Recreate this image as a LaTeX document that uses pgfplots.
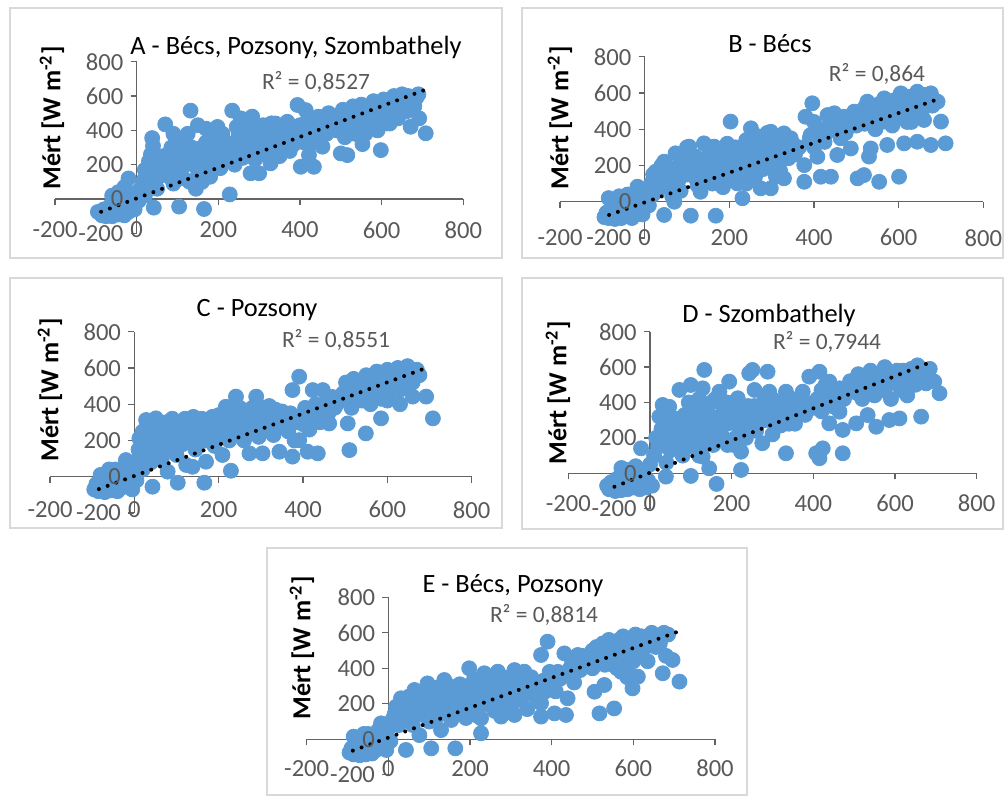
\documentclass[border=0pt]{standalone}
\usepackage{pgfplots}
\pgfplotsset{compat=1.18}
\usepackage{fontspec}
\setmainfont{Carlito}
\definecolor{ptblue}{HTML}{5B9BD5}
\definecolor{lblgray}{HTML}{595959}
\definecolor{axisgray}{HTML}{646464}
\definecolor{boxgray}{HTML}{D9D9D9}
\pgfplotsset{
 layers/mine/.define layer set={axis background,axis grid,axis ticks,axis lines,main,axis tick labels,axis descriptions,axis foreground}{
   grid style={/pgfplots/on layer=axis grid},
   tick style={/pgfplots/on layer=axis ticks},
   axis line style={/pgfplots/on layer=axis lines},
   label style={/pgfplots/on layer=axis descriptions},
   title style={/pgfplots/on layer=axis descriptions},
   ticklabel style={/pgfplots/on layer=axis tick labels},
 },
 panel/.style={
  set layers=mine,
  scale only axis, xmin=-200,xmax=800,ymin=-200,ymax=800,
  axis x line*=middle, axis y line*=middle,
  hide obscured x ticks=false, hide obscured y ticks=false,
  xtick={-200,0,200,400,600,800}, ytick={-200,0,200,400,600,800},
  tick align=outside, major tick length=3pt,
  axis line style={color=axisgray, line width=0.7pt},
  tick style={color=axisgray, line width=0.7pt},
  ticklabel style={font=\fontsize{12.3}{14}\selectfont, text=lblgray, inner sep=0pt},
  /pgf/number format/assume math mode=true,
  yticklabel style={anchor=east, xshift=-3.5pt},
  clip mode=individual,
 },
 pts/.style={only marks, mark=*, mark size=3.75pt, mark options={fill=ptblue, draw=ptblue}},
 trend/.style={black, line width=2pt, dash pattern=on 0pt off 4.65pt, line cap=round},
}
\newcommand{\ttl}[1]{{\fontsize{13.2}{15}\selectfont #1}}
\newcommand{\rsq}[1]{{\fontsize{11.7}{13}\selectfont\color{lblgray} #1}}
\newcommand{\ylab}{{\fontsize{13}{15}\selectfont\bfseries Mért [W m\textsuperscript{-2}]}}
\begin{document}
\begin{tikzpicture}
\draw[boxgray, line width=0.75pt] (5pt,-4pt) rectangle (251pt,-129pt);
\draw[boxgray, line width=0.75pt] (261pt,-4pt) rectangle (501.5pt,-129pt);
\draw[boxgray, line width=0.75pt] (5pt,-139pt) rectangle (251pt,-264pt);
\draw[boxgray, line width=0.75pt] (261pt,-139pt) rectangle (501.5pt,-264.5pt);
\draw[boxgray, line width=0.75pt] (133.5pt,-274pt) rectangle (373.5pt,-397.6pt);

% ---------------- A
\begin{axis}[panel, at={(27.5pt,-116.7pt)}, anchor=south west, width=204.15pt, height=85.85pt,
  xticklabel style={anchor=center, yshift=-12.5pt}]
\addplot[pts] coordinates {
(-95,-75)(-85,-95)(-80,-60)(-75,-100)(-70,-80)(-65,-40)(-60,-100)(-55,-70)(-50,-20)(-45,-90)
(-40,-55)(-35,10)(-30,-95)(-25,-40)(-20,-75)(-15,30)(-10,-20)(-5,-60)(0,40)(-60,20)(-45,40)
(-20,120)(-30,70)(5,-10)(10,60)
(15,100)(20,170)(25,140)(30,220)(35,260)(38,355)(40,310)(45,180)(50,120)(42,-50)(55,230)
(20,20)(30,80)(60,160)(50,60)
(70,435)(65,250)(75,200)(80,130)(85,300)(90,90)(95,360)(100,230)(104,-44)(105,170)(110,320)
(115,120)(120,260)(125,380)(132,515)(135,300)(140,200)(145,60)(150,430)(130,100)(150,140)(90,380)
(160,300)(165,-58)(170,410)(175,250)(180,130)(185,350)(190,200)(198,420)(200,300)(205,180)
(210,380)(215,240)(220,330)(228,27)(230,270)(234,515)(240,200)(245,420)(250,320)(160,100)
(255,470)(260,240)(265,370)(270,300)(279,150)(283,480)(290,230)(295,400)(300,150)(305,330)
(310,260)(320,420)(328,208)(330,441)(335,300)(340,370)(350,250)(345,430)
(360,350)(369,450)(375,280)(380,400)(385,320)(394,548)(400,430)(402,188)(405,360)(414,518)
(420,470)(422,256)(430,400)(434,188)(440,330)(445,480)(450,420)
(455,305)(460,470)(465,380)(470,500)(480,420)(490,460)(500,266)(505,520)(510,400)(516,256)
(520,470)(530,540)(535,380)(540,440)(545,500)(550,550)(553,320)
(560,420)(565,480)(570,540)(580,570)(585,460)(590,400)(598,285)(600,520)(605,580)(610,440)
(620,500)(625,560)(630,600)(640,470)(645,540)(650,610)
(655,580)(660,510)(665,600)(671,421)(675,560)(680,540)(685,590)(692,470)(708,383)(690,610)
(20,120)(40,150)(60,200)(80,180)(100,280)(120,200)(140,250)(160,200)(170,330)(190,250)
(200,360)(210,270)(225,300)(240,260)(250,380)(260,330)(270,420)(280,350)(290,300)(300,380)
(310,430)(320,350)(330,280)(340,440)(355,320)(365,400)(375,350)(390,420)(400,380)(410,330)
(420,400)(430,450)(440,380)(450,350)(460,420)(470,450)(480,480)(490,400)(500,480)(510,450)
(520,420)(530,480)(540,500)(550,470)(560,530)(570,500)(575,440)(590,520)(600,480)(610,560)
(620,540)(630,480)(640,580)(650,560)(660,560)(670,580)(620,440)(560,380)(510,360)
};
\addplot[trend] coordinates {(-87,-74) (704,634)};
\end{axis}

% ---------------- B
\begin{axis}[panel, at={(280pt,-119pt)}, anchor=south west, width=211.65pt, height=90.65pt,
  xticklabel style={anchor=center, yshift=-15pt}]
\addplot[pts] coordinates {
(-95,-85)(-90,-60)(-85,-90)(-80,-40)(-75,-75)(-70,-95)(-65,-20)(-60,-70)(-55,-90)(-50,-45)
(-45,10)(-40,-80)(-35,-30)(-30,-90)(-25,30)(-20,-50)(-17,83)(-10,-10)(-5,-70)(0,30)(-60,30)
(-40,40)(5,60)(10,-20)(-85,20)
(15,100)(20,150)(26,166)(30,60)(35,120)(40,200)(46,221)(46,-73)(50,140)(55,90)(60,180)(65,30)
(73,267)(77,193)(80,120)(85,60)(90,230)(95,160)(100,300)(70,0)
(105,304)(109,-77)(110,200)(115,250)(120,130)(125,90)(132,55)(135,180)(140,322)(145,240)
(150,150)(155,280)(160,100)(164,304)(168,-77)(170,210)(175,140)(180,260)(185,80)(190,190)
(195,320)(200,240)(203,442)
(210,150)(215,300)(219,101)(225,200)(231,19)(235,260)(240,340)(245,130)(251,405)(255,220)
(260,300)(265,160)(270,360)(274,74)(280,250)(285,190)(290,380)(298,74)(298,386)(305,280)
(310,140)(315,330)(320,220)(329,377)(329,129)(335,300)(340,240)(345,350)
(355,260)(365,300)(377,110)(377,202)(380,469)(390,350)(392,368)(396,543)(400,300)(408,248)
(416,138)(420,400)(425,330)(432,478)(440,138)(445,420)(448,488)(455,258)(460,400)(463,350)
(471,469)(475,380)
(487,294)(495,497)(500,420)(503,129)(510,460)(518,147)(520,520)(526,552)(530,249)(534,294)
(540,480)(545,400)(554,110)(555,540)(560,440)(566,570)(573,313)(580,500)(585,420)(590,560)
(601,138)(605,598)(610,470)(613,322)(620,540)(630,440)(635,580)(644,607)(644,331)(650,520)
(660,451)(665,570)(676,598)(676,313)(680,530)(692,552)(700,442)(711,322)
(120,180)(140,220)(160,170)(180,220)(200,180)(210,250)(220,280)(230,230)(240,180)(250,250)
(260,200)(270,280)(280,320)(290,250)(300,200)(310,300)(320,350)(330,260)(340,300)(350,320)
(300,330)(280,180)(260,130)(240,100)(320,170)(230,300)(200,130)(150,200)(100,150)(60,120)
(40,80)(20,40)(120,250)(80,160)
(500,460)(520,480)(540,520)(560,500)(580,540)(600,520)(620,580)(640,560)(660,520)(680,570)
(600,460)(560,470)(520,430)(490,460)(470,420)(440,440)(430,380)(410,350)(400,440)(660,590)
(640,490)(620,440)(580,460)(540,440)
};
\addplot[trend] coordinates {(-84,-73) (703,574)};
\end{axis}

% ---------------- C
\begin{axis}[panel, at={(25pt,-256.5pt)}, anchor=south west, width=210.85pt, height=90.65pt,
  xticklabel style={anchor=center, yshift=-13.5pt}]
\addplot[pts] coordinates {
(-95,-70)(-90,-40)(-85,-80)(-80,-55)(-75,-20)(-70,-85)(-65,-45)(-60,10)(-55,-75)(-50,-30)
(-45,40)(-40,-80)(-35,-10)(-30,-60)(-25,50)(-20,92)(-15,-40)(-10,20)(-5,-70)(0,60)(-60,40)
(5,-20)(10,100)(-80,10)(-30,20)
(12,212)(15,150)(20,250)(25,60)(28,313)(30,180)(35,270)(40,110)(43,-55)(45,230)(51,322)
(55,170)(60,280)(65,100)(70,220)(75,300)(79,28)(80,160)(85,260)(90,320)(95,200)(100,120)
(103,-33)(105,290)(110,240)(115,180)(120,320)(123,65)(125,260)(130,210)(138,55)(140,330)
(145,150)(150,280)(155,230)(160,320)(166,-33)(170,83)(170,200)(175,290)(180,250)(185,330)
(190,170)(195,300)(200,340)
(205,230)(209,120)(215,280)(217,386)(225,200)(229,33)(230,320)(241,442)(245,250)(250,380)
(255,300)(260,200)(265,340)(273,129)(275,260)(280,380)(289,442)(290,300)(295,220)(304,129)
(305,350)(310,260)(320,390)(325,300)(330,230)(335,370)(344,138)(345,280)
(355,320)(365,250)(375,111)(375,478)(380,200)(385,330)(391,552)(391,202)(400,290)(405,380)
(411,138)(415,260)(423,478)(425,340)(435,129)(440,300)(447,478)(450,400)(460,350)(462,294)
(470,440)(475,380)
(485,420)(495,460)(502,520)(506,294)(510,147)(515,380)(520,540)(525,460)(535,500)(540,420)
(549,239)(550,560)(560,470)(565,520)(575,580)(585,322)(585,430)(590,500)(600,590)(605,460)
(615,540)(625,600)(630,400)(640,500)(648,610)(655,560)(660,442)(670,590)(676,560)(692,442)
(708,322)
(10,150)(20,200)(30,260)(40,300)(50,200)(60,240)(70,280)(80,230)(90,180)(100,250)
(110,300)(120,260)(130,300)(140,240)(150,200)(160,260)(170,300)(180,200)(190,250)(200,280)
(210,300)(220,340)(230,260)(240,300)(250,320)(260,280)(270,360)(280,320)(290,350)(300,330)
(310,380)(320,340)(330,360)(340,320)(350,360)(360,280)(370,350)(380,300)(400,330)(420,300)
(430,400)(445,360)(480,400)(500,440)(510,480)(520,420)(530,520)(540,480)(555,450)(560,540)
(570,500)(580,470)(595,520)(610,500)(620,560)(630,480)(640,540)(650,580)(660,520)(670,560)
(600,420)(560,400)(520,460)(20,40)(40,80)
};
\addplot[trend] coordinates {(-84,-68) (700,607)};
\end{axis}

% ---------------- D
\begin{axis}[panel, at={(284.15pt,-254.35pt)}, anchor=south west, width=204.2pt, height=88.5pt,
  xticklabel style={anchor=center, yshift=-12pt}]
\addplot[pts] coordinates {
(-105,-70)(-100,-90)(-95,-50)(-90,-80)(-85,-100)(-80,-30)(-75,-70)(-70,-95)(-65,-10)(-60,-60)
(-55,-90)(-50,20)(-45,-40)(-40,-80)(-35,40)(-30,-20)(-25,-90)(-20,-60)(-15,10)(-10,-80)
(-5,-40)(0,50)(5,-70)(-70,30)(-22,141)
(10,100)(15,200)(20,150)(23,320)(28,250)(31,386)(35,180)(39,-19)(40,60)(45,290)(47,376)
(50,130)(55,220)(60,310)(65,170)(72,471)(75,250)(80,100)(85,330)(90,200)(95,400)(100,499)
(100,-15)(100,280)
(105,150)(110,350)(115,230)(120,420)(125,300)(129,94)(129,480)(133,584)(135,200)(140,380)
(145,28)(145,260)(150,320)(155,160)(160,420)(163,-60)(165,240)(170,461)(175,330)(180,200)
(185,380)(190,280)(194,518)(200,300)
(205,160)(210,400)(215,424)(220,250)(223,122)(223,19)(230,340)(235,200)(243,565)(245,300)
(251,584)(255,380)(256,471)(260,240)(270,330)(275,170)(280,420)(288,574)(292,461)(295,300)
(300,220)(310,380)(320,270)(333,461)(333,113)(340,330)(345,400)
(355,280)(360,360)(374,461)(380,330)(390,546)(395,380)(407,113)(415,85)(415,574)(420,350)
(423,141)(430,420)(439,518)(439,282)(445,380)(455,460)(464,480)(464,348)(472,245)(472,113)
(475,420)
(490,520)(500,460)(505,282)(510,560)(520,420)(530,500)(533,329)(540,580)(550,440)(554,263)
(560,520)(570,470)(575,600)(586,301)(590,420)(595,540)(605,580)(611,310)(615,470)(620,530)
(630,440)(640,590)(650,500)(655,610)(664,320)(670,560)(676,508)(685,590)(696,518)(709,452)
(60,250)(80,300)(100,350)(110,250)(120,300)(130,350)(140,250)(150,400)(160,300)(170,250)
(180,350)(190,400)(200,350)(210,300)(220,350)(230,280)(240,380)(250,330)(260,300)(270,380)
(280,300)(290,350)(300,420)(310,320)(320,400)(330,350)(340,280)(350,330)(360,420)(370,380)
(380,400)(400,370)(410,420)(420,470)(430,500)(440,450)(450,420)(460,380)(480,460)(500,500)
(510,450)(520,530)(530,460)(540,520)(550,480)(560,560)(570,540)(580,500)(590,560)(600,510)
(610,540)(620,580)(630,500)(640,550)(650,570)(660,540)(665,590)(680,540)(100,200)(80,180)
(60,150)(40,200)(130,150)(120,100)(190,160)(210,200)
};
\addplot[trend] coordinates {(-87,-76) (696,636)};
\end{axis}

% ---------------- E
\begin{axis}[panel, at={(153.35pt,-387.4pt)}, anchor=south west, width=204.15pt, height=88.75pt,
  xticklabel style={anchor=center, yshift=-11.5pt}]
\addplot[pts] coordinates {
(-95,-75)(-90,-50)(-85,-85)(-80,-30)(-75,-70)(-70,-90)(-65,-10)(-60,-60)(-55,-85)(-50,30)
(-45,-40)(-40,-80)(-35,10)(-30,-60)(-25,50)(-18,90)(-15,-30)(-10,30)(-5,-60)(0,60)(-60,30)
(5,-10)(10,110)(-85,15)
(15,140)(19,184)(25,80)(31,231)(35,150)(40,200)(43,-60)(45,110)(50,240)(55,170)(60,80)
(64,278)(70,200)(76,24)(80,140)(85,260)(90,190)(96,315)(100,100)
(105,-51)(105,240)(110,170)(115,290)(120,130)(129,52)(130,220)(137,334)(140,270)(145,160)
(150,300)(154,109)(160,220)(164,-51)(165,270)(170,150)(175,310)(180,200)(185,260)(190,120)
(198,400)(200,300)
(205,180)(210,340)(215,240)(220,130)(227,118)(227,34)(230,300)(235,372)(240,200)(250,260)
(255,340)(260,160)(268,381)(270,230)(276,128)(280,300)(290,190)(295,350)(300,260)(309,390)
(309,137)(315,220)(320,300)(333,381)(335,250)(340,170)(345,330)
(355,280)(365,220)(374,475)(374,128)(374,203)(380,330)(390,550)(395,380)(407,146)(410,270)
(420,340)(431,484)(435,137)(439,231)(445,400)(455,320)(464,475)(470,390)(478,440)
(490,470)(500,400)(505,268)(510,520)(517,146)(520,440)(529,306)(535,500)(540,560)(550,420)
(553,174)(560,520)(570,470)(575,580)(585,400)(590,540)(598,287)(605,590)(611,353)(615,480)
(625,560)(635,440)(645,600)(655,520)(665,580)(672,372)(680,470)(685,590)(696,447)(713,325)
(20,120)(30,180)(45,160)(55,220)(65,180)(75,240)(85,200)(95,250)(105,200)(115,230)
(125,270)(135,200)(145,250)(155,280)(165,210)(175,250)(185,300)(195,250)(205,280)(215,300)
(225,260)(235,320)(245,280)(255,250)(265,320)(275,280)(285,340)(295,300)(305,330)(315,360)
(325,280)(335,320)(350,350)(360,300)(385,270)(400,320)(415,380)(430,360)(450,440)(460,420)
(475,470)(490,440)(500,500)(515,480)(525,540)(540,520)(555,480)(565,560)(575,520)(585,560)
(595,500)(610,540)(620,580)(630,520)(640,560)(655,580)(665,540)(675,600)(600,440)(560,440)
(530,420)(210,200)(170,200)(250,190)(280,160)(300,190)(570,380)(585,350)(560,400)
};
\addplot[trend] coordinates {(-87,-64) (705,603)};
\end{axis}

% titles
\node[anchor=base] at (148pt,-27.5pt) {\ttl{A - Bécs, Pozsony, Szombathely}};
\node[anchor=base] at (385pt,-26.5pt) {\ttl{B - Bécs}};
\node[anchor=base] at (128.5pt,-158.35pt) {\ttl{C - Pozsony}};
\node[anchor=base] at (384.5pt,-161.5pt) {\ttl{D - Szombathely}};
\node[anchor=base] at (256.5pt,-296.5pt) {\ttl{E - Bécs, Pozsony}};
% R2
\node[anchor=base] at (158pt,-45pt) {\rsq{R² = 0,8527}};
\node[anchor=base] at (438.5pt,-41pt) {\rsq{R² = 0,864}};
\node[anchor=base] at (168pt,-174pt) {\rsq{R² = 0,8551}};
\node[anchor=base] at (413.5pt,-175pt) {\rsq{R² = 0,7944}};
\node[anchor=base] at (272pt,-311.5pt) {\rsq{R² = 0,8814}};
% y labels
\node[rotate=90] at (26pt,-59pt) {\ylab};
\node[rotate=90] at (280pt,-59pt) {\ylab};
\node[rotate=90] at (25pt,-195pt) {\ylab};
\node[rotate=90] at (279pt,-196.5pt) {\ylab};
\node[rotate=90] at (151pt,-324pt) {\ylab};
\pgfresetboundingbox
\path[use as bounding box] (0,0) rectangle (504pt,-398pt);
\end{tikzpicture}
\end{document}
